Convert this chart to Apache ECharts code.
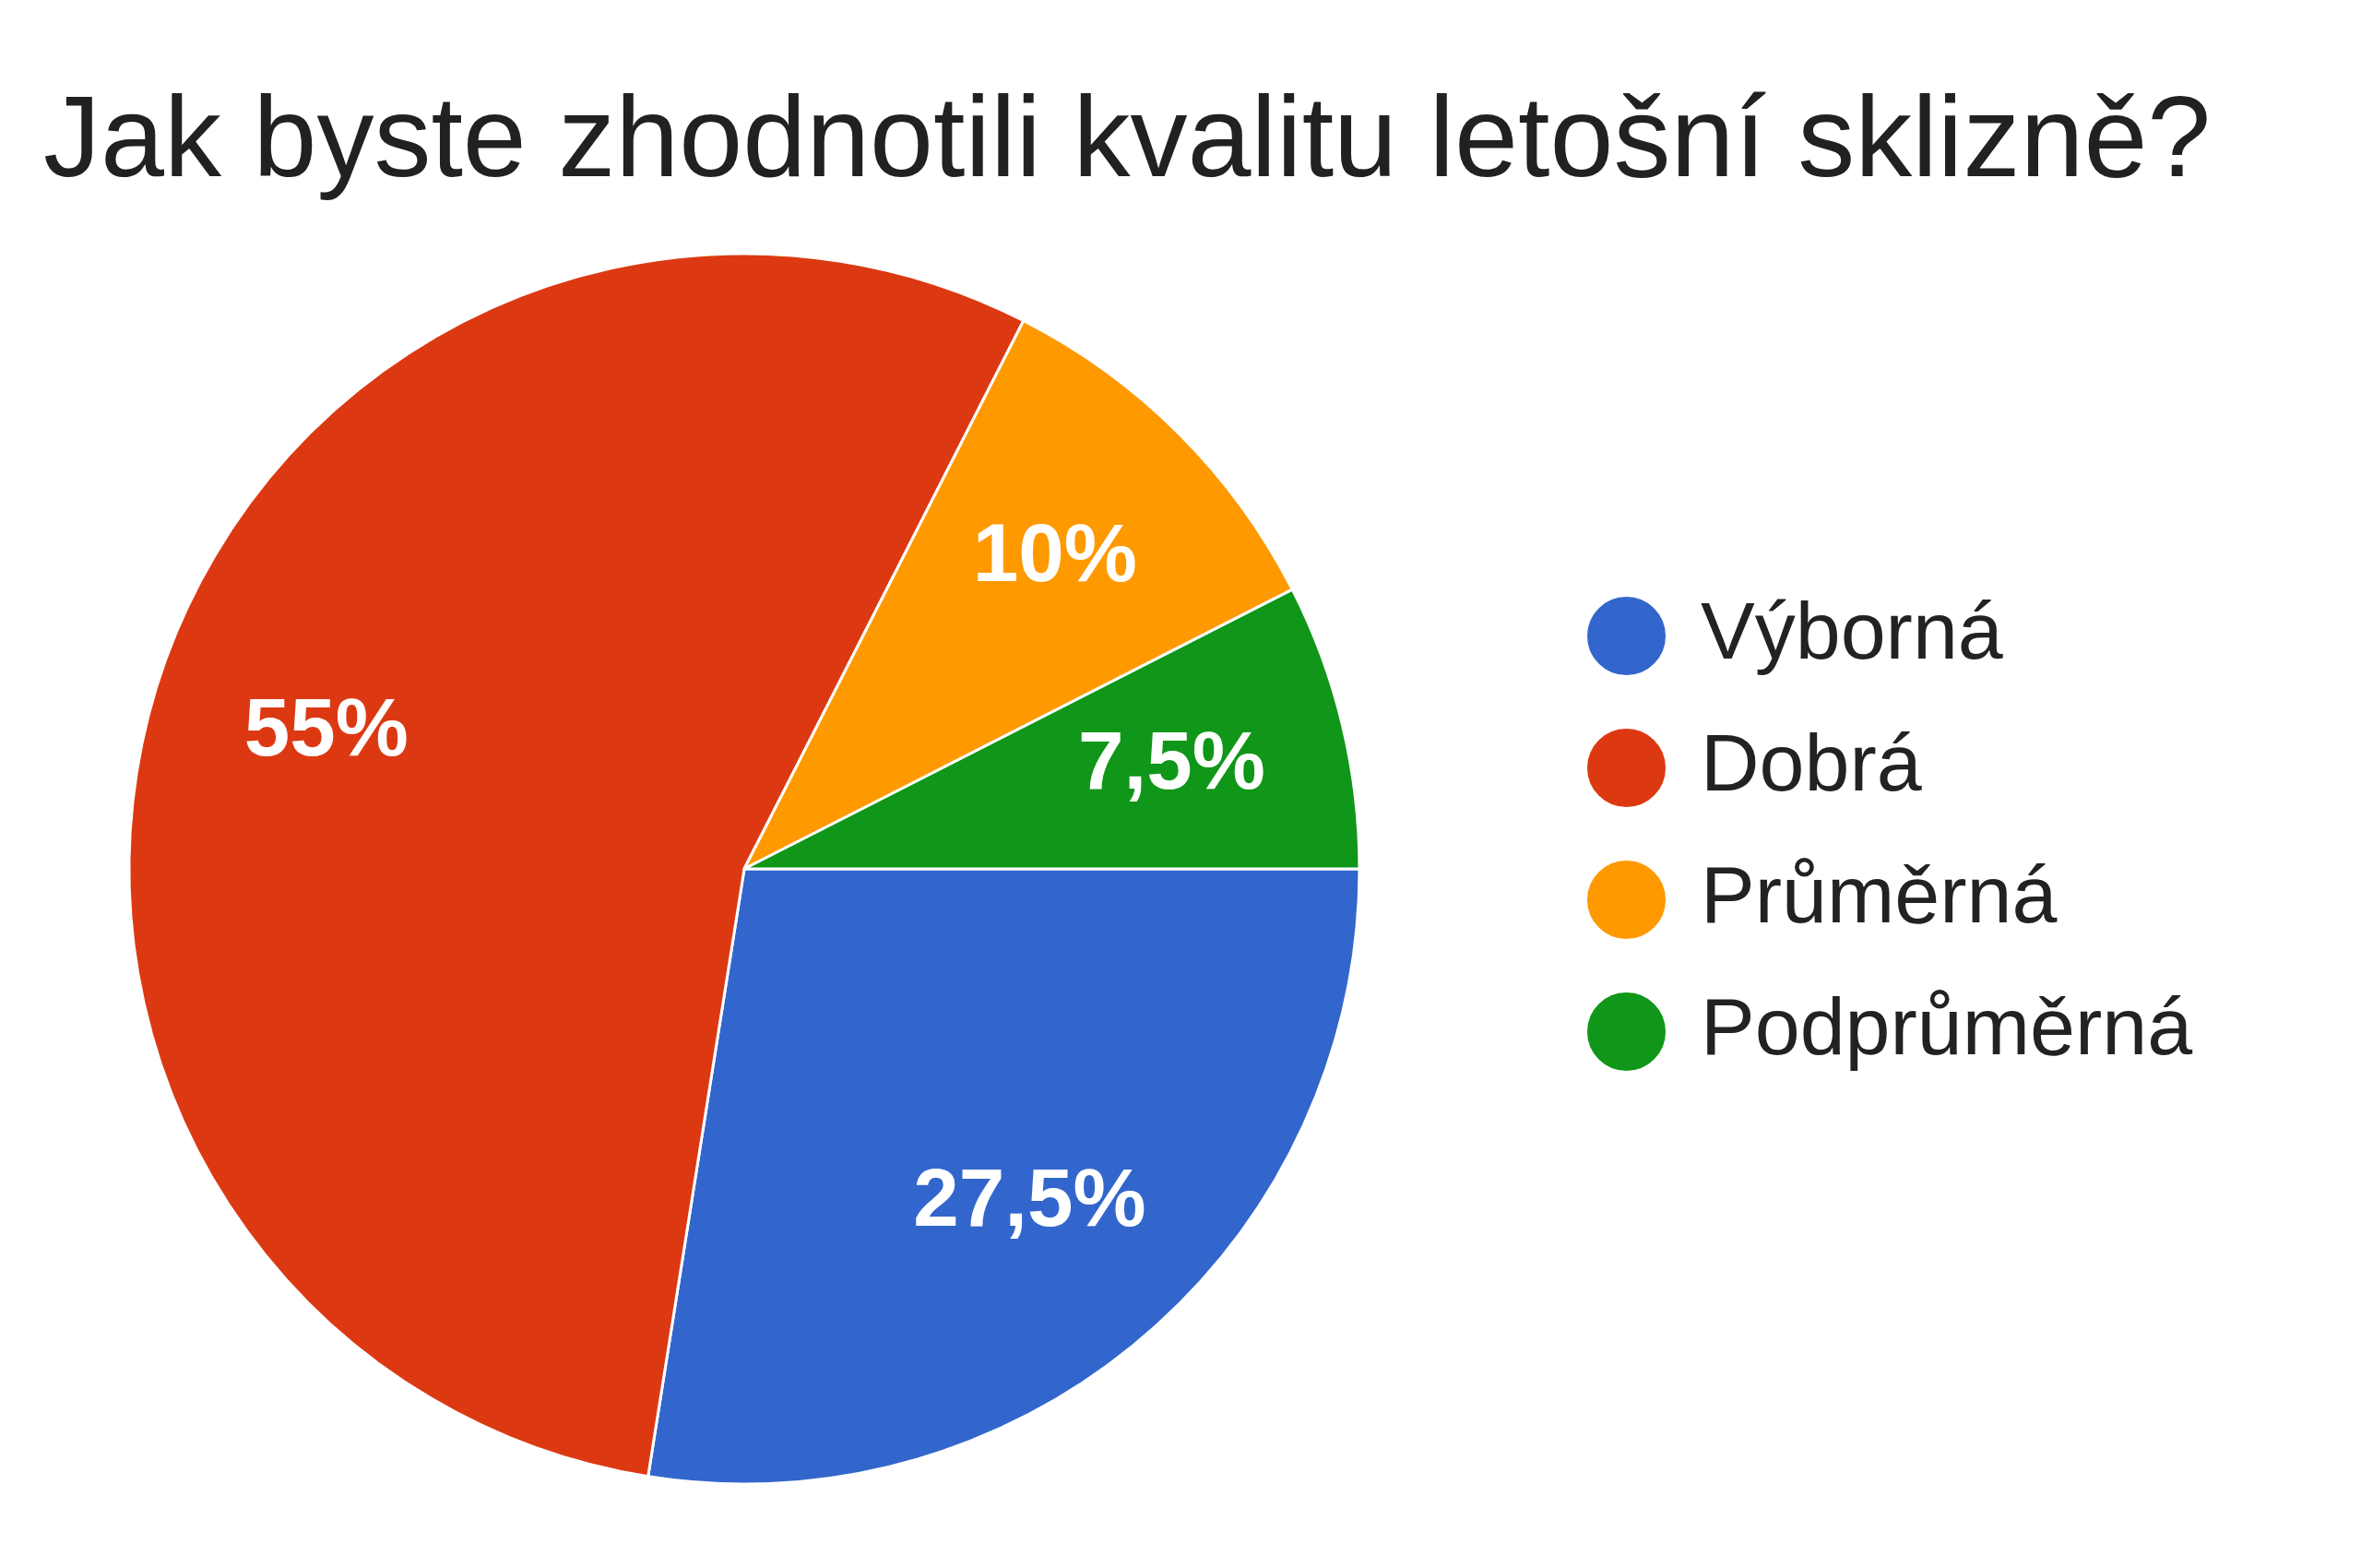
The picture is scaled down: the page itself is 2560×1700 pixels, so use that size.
<!DOCTYPE html>
<html>
<head>
<meta charset="utf-8">
<script src="https://cdn.jsdelivr.net/npm/echarts@6/dist/echarts.min.js"></script>
<style>
html,body{margin:0;padding:0;background:#fff;}
#chart{width:2560px;height:1700px;}
</style>
</head>
<body>
<div id="chart"></div>
<script>
const titleText = 'Jak byste zhodnotili kvalitu letošní sklizně?';
const categories = ['Výborná', 'Dobrá', 'Průměrná', 'Podprůměrná'];
const counts = [11, 22, 4, 3];
const colors = ['#3366cc', '#dc3912', '#ff9900', '#109618'];

const data = categories.map((name, i) => ({ name: name, value: counts[i], itemStyle: { color: colors[i] } }));
const fmt = p => String(p.percent).replace('.', ',') + '%';
const FONT = '"Liberation Sans", Arial, sans-serif';

const chart = echarts.init(document.getElementById('chart'));
chart.setOption({
  backgroundColor: '#ffffff',
  animation: false,
  title: {
    text: titleText,
    left: 42,
    top: 90,
    textStyle: { fontFamily: FONT, fontSize: 124, fontWeight: 'normal', color: '#212121' }
  },
  legend: {
    orient: 'vertical',
    left: 1714,
    top: 640,
    data: categories,
    icon: 'circle',
    itemWidth: 87,
    itemHeight: 87,
    itemGap: 54,
    textStyle: { fontFamily: FONT, fontSize: 88, color: '#222222', padding: [0, 0, 0, 32] }
  },
  series: [
    {
      type: 'pie',
      center: [807, 942],
      radius: [0, 667],
      startAngle: 0,
      clockwise: true,
      data: data,
      itemStyle: { borderColor: '#ffffff', borderWidth: 3 },
      label: { show: false },
      labelLine: { show: false },
      emphasis: { disabled: true }
    },
    {
      type: 'pie',
      center: [807, 942],
      radius: [280, 667],
      startAngle: 0,
      clockwise: true,
      silent: true,
      legendHoverLink: false,
      data: categories.map((name, i) => ({ name: name, value: counts[i] })),
      itemStyle: { color: 'rgba(0,0,0,0)', borderWidth: 0 },
      label: {
        show: true,
        position: 'inside',
        formatter: fmt,
        fontFamily: FONT,
        fontSize: 89,
        fontWeight: 'bold',
        color: '#ffffff'
      },
      labelLine: { show: false },
      emphasis: { disabled: true }
    }
  ]
});
</script>
</body>
</html>
